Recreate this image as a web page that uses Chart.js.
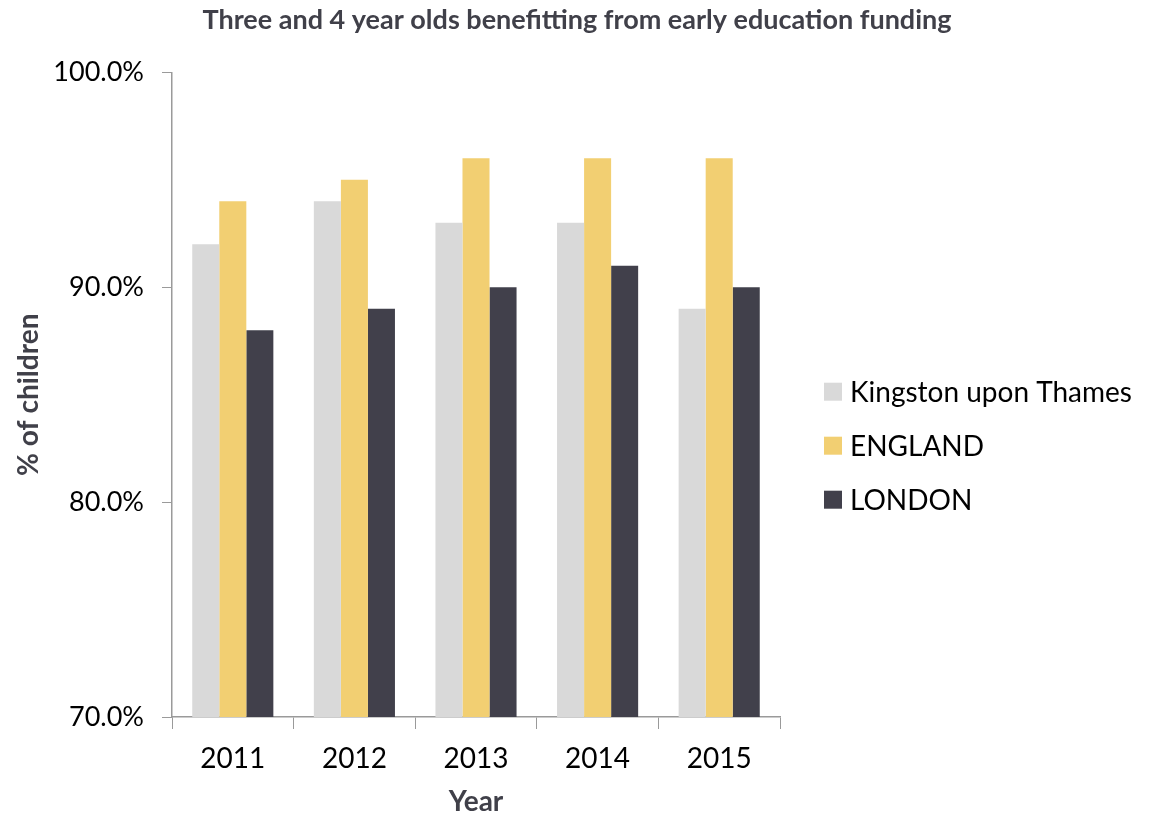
<!DOCTYPE html>
<html>
<head>
<meta charset="utf-8">
<script src="https://cdn.jsdelivr.net/npm/chart.js@4/dist/chart.umd.min.js"></script>
<style>
  html, body { margin: 0; padding: 0; background: #fff; }
  #wrap { width: 1154px; height: 819px; }
</style>
</head>
<body>
<div id="wrap"><canvas id="fundingChart"></canvas></div>
<script>
var years = ['2011', '2012', '2013', '2014', '2015']
var seriesNames = ['Kingston upon Thames', 'ENGLAND', 'LONDON']
var kingston = [92, 94, 93, 93, 89]
var england = [94, 95, 96, 96, 96]
var london = [88, 89, 90, 91, 90]
var yTicks = [70, 80, 90, 100]

var colours = ['#d9d9d9', '#f2cf72', '#41404b']
var axisGrey = '#9a9a9a'
var textDark = '#404049'
var fontFamily = 'Lato, "Open Sans", sans-serif'

Chart.defaults.font.family = fontFamily

// legend sits to the right of the plot, one row per series
var sideLegend = {
    id: 'sideLegend',
    afterDraw: function(chart) {
        var c = chart.ctx
        var area = chart.chartArea
        var x = area.right + 44
        var rowGap = 54
        var y0 = (area.top + area.bottom) / 2 - rowGap * (chart.data.datasets.length - 1) / 2 + 51
        c.save()
        c.font = '28px ' + fontFamily
        c.textBaseline = 'middle'
        chart.data.datasets.forEach(function(ds, i) {
            var y = y0 + i * rowGap
            c.fillStyle = ds.backgroundColor
            c.fillRect(x, y - 9, 18, 18)
            c.fillStyle = '#000'
            c.fillText(ds.label, x + 26, y + 1)
        })
        c.restore()
    }
}

var ctx = document.getElementById('fundingChart').getContext('2d');
var fundingChart = new Chart(ctx, {
    type: 'bar',
    data: {
        labels: years,
        datasets: [kingston, england, london].map(function(values, i) {
            return {
                label: seriesNames[i],
                data: values,
                backgroundColor: colours[i],
                barPercentage: 1,
                categoryPercentage: 0.667
            }
        })
    },
    plugins: [sideLegend],
    options: {
        responsive: true,
        maintainAspectRatio: false,
        animation: false,
        layout: { padding: { left: 8, right: 8, top: 0, bottom: 0 } },
        plugins: {
            title: {
                display: true,
                text: 'Three and 4 year olds benefitting from early education funding',
                color: textDark,
                font: { size: 27, weight: 'bold' },
                padding: { top: 4, bottom: 36 }
            },
            legend: { display: false },
            tooltip: { enabled: false }
        },
        scales: {
            x: {
                grid: { display: true, drawOnChartArea: false, drawTicks: true, tickLength: 12, color: axisGrey, offset: true },
                border: { display: true, color: axisGrey, width: 1.5 },
                ticks: { color: '#000', font: { size: 28 }, padding: 13 },
                title: { display: true, text: 'Year', color: textDark, font: { size: 28, weight: 'bold' }, padding: { top: 6, bottom: 0 } },
                afterFit: function(scale) { scale.height = 102 }
            },
            y: {
                min: 70,
                max: 100,
                afterBuildTicks: function(scale) {
                    scale.ticks = yTicks.map(function(v) { return { value: v } })
                },
                grid: { display: true, drawOnChartArea: false, drawTicks: true, tickLength: 10, color: axisGrey },
                border: { display: true, color: axisGrey, width: 1.5 },
                ticks: {
                    color: '#000',
                    font: { size: 27 },
                    padding: 18,
                    callback: function(v) { return v.toFixed(1) + '%' }
                },
                title: { display: true, text: '% of children', color: textDark, font: { size: 28, weight: 'bold' }, padding: { bottom: 8 } },
                afterFit: function(scale) { scale.width = 164 }
            },
            // empty axis that reserves the space on the right for the legend
            legendSpace: {
                type: 'linear',
                position: 'right',
                display: true,
                grid: { display: false },
                border: { display: false },
                ticks: { display: false },
                afterFit: function(scale) { scale.width = 366 }
            }
        }
    }
});
</script>
</body>
</html>
